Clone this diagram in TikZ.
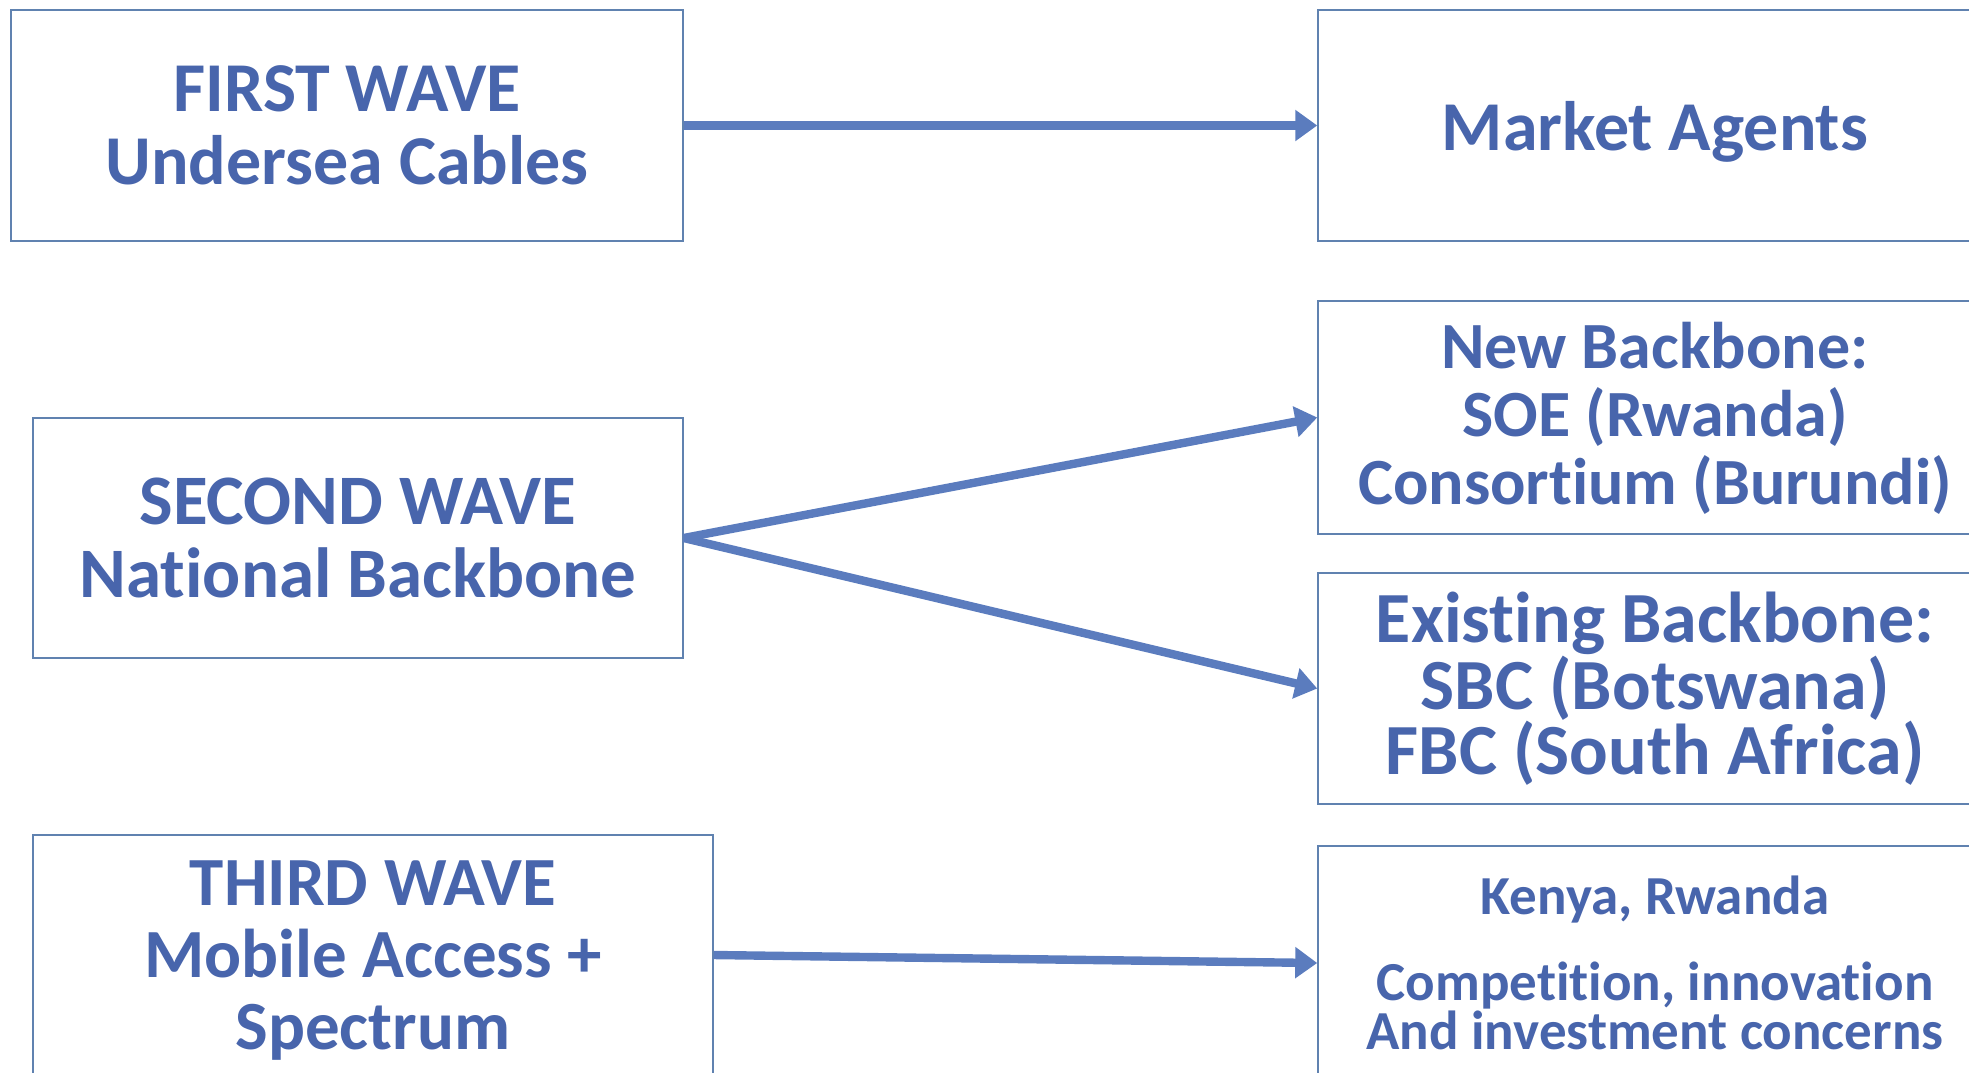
\documentclass[tikz,border=0pt]{standalone}
\usepackage{fontspec}
\setmainfont{Carlito}[Ligatures=CommonOff]
\usepackage{tikz}
\usetikzlibrary{arrows.meta}
\definecolor{txtblue}{RGB}{72,101,172}
\definecolor{boxline}{RGB}{96,130,176}
\definecolor{arrblue}{RGB}{91,124,190}

\tikzset{
  wavebox/.style={draw=boxline,line width=0.75pt,text=txtblue,align=center,inner sep=0pt},
  flow/.style={draw=arrblue,line width=4.2pt,-{Triangle[length=11pt,width=15pt]}}
}

\begin{document}
\begin{tikzpicture}[x=0.5pt,y=-0.5pt]
  \useasboundingbox (0,0) rectangle (1969,1072);
  \clip (0,0) rectangle (1969,1072);
  % waves on the left
  \node[wavebox,minimum width=336pt,minimum height=115.5pt,font={\fontsize{35}{36.5}\selectfont\bfseries}] (first) at (347,125.5) {FIRST WAVE\\Undersea Cables};
  \node[wavebox,minimum width=325pt,minimum height=120pt,font={\fontsize{35.5}{36.4}\selectfont\bfseries}] (second) at (358,538) {SECOND WAVE\\National Backbone};
  \node[wavebox,minimum width=340pt,minimum height=120pt,text depth=0pt,font={\fontsize{34.5}{36}\selectfont\bfseries}] (third) at (373,955) {THIRD WAVE\\Mobile Access +\\Spectrum};
  % outcomes on the right
  \node[wavebox,minimum width=337pt,minimum height=115.5pt,text depth=0pt,font={\fontsize{35}{36.5}\selectfont\bfseries}] (agents) at (1655,125.5) {Market Agents};
  \node[wavebox,minimum width=337pt,minimum height=116.5pt,text depth=4pt,font={\fontsize{33}{34}\selectfont\bfseries}] (newbb) at (1655,417.5) {New Backbone:\\SOE (Rwanda)\\Consortium (Burundi)};
  \node[wavebox,minimum width=337pt,minimum height=115.5pt,font={\fontsize{36}{32.5}\selectfont\bfseries}] (oldbb) at (1655,688.5) {Existing Backbone:\\SBC (Botswana)\\FBC (South Africa)};
  \node[wavebox,minimum width=337pt,minimum height=117pt,font={\fontsize{27.5}{22.5}\selectfont\bfseries}] (kenya) at (1655,963) {Kenya, Rwanda\\[18.5pt]Competition, innovation\\And investment concerns};
  % arrows
  \draw[flow] (first.east) -- (agents.west);
  \draw[flow] (second.east) -- (newbb.west);
  \draw[flow] (second.east) -- (oldbb.west);
  \draw[flow] (third.east) -- (kenya.west);
\end{tikzpicture}
\end{document}
